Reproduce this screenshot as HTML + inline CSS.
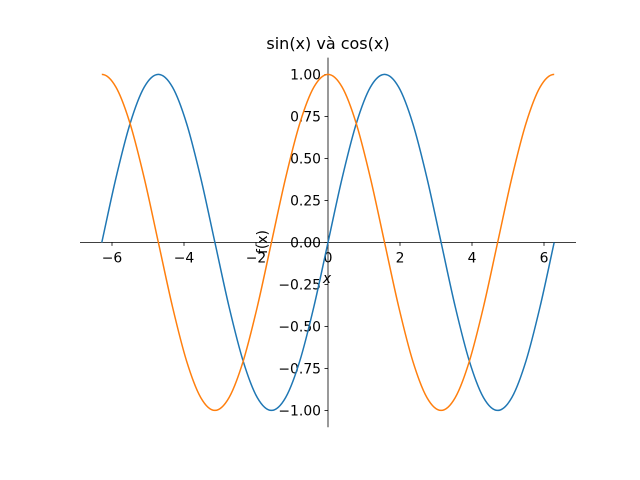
<!DOCTYPE html>
<html><head><meta charset="utf-8"><style>
html,body{margin:0;padding:0;background:#fff;}
svg{display:block;font-family:"DejaVu Sans","Liberation Sans",sans-serif;}
</style></head><body>
<svg id="chart" width="640" height="480" viewBox="0 0 640 480">
<rect width="640" height="480" fill="#fff"/>
<text x="328" y="49" font-size="16" text-anchor="middle" fill="#000">sin(x) và cos(x)</text>
<g id="axes"></g>
<g id="series"></g>
</svg>
<script>
const xStepCount = 32;
const sinValues = [0,0.383,0.707,0.924,1,0.924,0.707,0.383,0,-0.383,-0.707,-0.924,-1,-0.924,-0.707,-0.383,0,0.383,0.707,0.924,1,0.924,0.707,0.383,0,-0.383,-0.707,-0.924,-1,-0.924,-0.707,-0.383,0];
const cosValues = [1,0.924,0.707,0.383,0,-0.383,-0.707,-0.924,-1,-0.924,-0.707,-0.383,0,0.383,0.707,0.924,1,0.924,0.707,0.383,0,-0.383,-0.707,-0.924,-1,-0.924,-0.707,-0.383,0,0.383,0.707,0.924,1];
const xTicks = [-6,-4,-2,0,2,4,6];
const xTickLabels = ["\u22126","\u22124","\u22122","0","2","4","6"];
const yTicks = [-1,-0.75,-0.5,-0.25,0,0.25,0.5,0.75,1];
const yTickLabels = ["\u22121.00","\u22120.75","\u22120.50","\u22120.25","0.00","0.25","0.50","0.75","1.00"];

const NS="http://www.w3.org/2000/svg";
const X0=328, XS=36, Y0=242.4, YS=168;
const sx=v=>X0+v*XS, sy=v=>Y0-v*YS;
function mk(tag,attrs,parent,txt){const e=document.createElementNS(NS,tag);for(const k in attrs)e.setAttribute(k,attrs[k]);if(txt!==undefined)e.textContent=txt;parent.appendChild(e);return e;}
const axes=document.getElementById('axes'), series=document.getElementById('series');

let e=mk('line',{x1:80,y1:Y0,x2:576,y2:Y0,stroke:'#000','stroke-width':0.8},axes);


e=mk('line',{x1:X0,y1:57.6,x2:X0,y2:427.2,stroke:'#000','stroke-width':0.8},axes);



xTicks.forEach((t,i)=>{
  const l=mk('line',{x1:sx(t),y1:Y0,x2:sx(t),y2:Y0+3.5,stroke:'#000','stroke-width':0.8},axes);
  
  
  const tx=mk('text',{x:sx(t),y:Y0+20,'font-size':13.9,'text-anchor':'middle'},axes,xTickLabels[i]);
  
  
});
yTicks.forEach((t,i)=>{
  const l=mk('line',{x1:X0-3.5,y1:sy(t),x2:X0,y2:sy(t),stroke:'#000','stroke-width':0.8},axes);
  
  
  const tx=mk('text',{x:X0-7,y:sy(t)+5,'font-size':13.9,'text-anchor':'end'},axes,yTickLabels[i]);
  
  
});
e=mk('text',{x:327,y:283,'font-size':13.9,'text-anchor':'middle','font-style':'italic'},axes,'x');


e=mk('text',{x:0,y:0,'font-size':13.9,'text-anchor':'middle',transform:'translate(267,242) rotate(-90)'},axes,'f(x)');



function pathFor(vals){
  const step=4*Math.PI/xStepCount;
  const n=vals.length;
  const pts=vals.map((v,i)=>[sx(-2*Math.PI+i*step),sy(v)]);
  const pre=[sx(-2*Math.PI-step),sy(vals[n-2])];
  const post=[sx(2*Math.PI+step),sy(vals[1])];
  const P=i=>i<0?pre:(i>=n?post:pts[i]);
  let d='M'+pts[0][0].toFixed(2)+','+pts[0][1].toFixed(2);
  for(let i=0;i<n-1;i++){
    const p0=P(i-1),p1=P(i),p2=P(i+1),p3=P(i+2);
    const c1=[p1[0]+(p2[0]-p0[0])/6,p1[1]+(p2[1]-p0[1])/6];
    const c2=[p2[0]-(p3[0]-p1[0])/6,p2[1]-(p3[1]-p1[1])/6];
    d+=' C'+c1.map(n=>n.toFixed(2)).join(',')+' '+c2.map(n=>n.toFixed(2)).join(',')+' '+p2.map(n=>n.toFixed(2)).join(',');
  }
  return d;
}
e=mk('path',{d:pathFor(sinValues),fill:'none',stroke:'#1f77b4','stroke-width':1.5},series);


e=mk('path',{d:pathFor(cosValues),fill:'none',stroke:'#ff7f0e','stroke-width':1.5},series);


</script>
</body></html>
